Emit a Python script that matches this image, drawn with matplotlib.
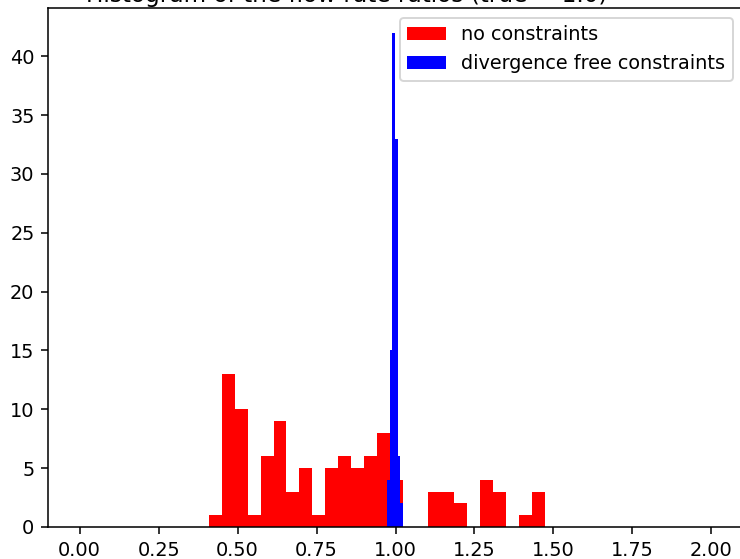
import numpy as np
import matplotlib
matplotlib.use('Agg')
import matplotlib.pyplot as plt

# counts
red_counts = [1, 13, 10, 1, 6, 9, 3, 5, 1, 5, 6, 5, 6, 8, 4, 0, 0, 3, 3, 2, 0, 4, 3, 0, 1, 3]
red_range = (0.4096, 1.4723)
blue_counts = [4, 15, 42, 33, 6, 2]
blue_range = (0.9734, 1.0240)

red_edges = np.linspace(red_range[0], red_range[1], len(red_counts) + 1)
blue_edges = np.linspace(blue_range[0], blue_range[1], len(blue_counts) + 1)

dpi = 139
fig = plt.figure(figsize=(740 / dpi, 559 / dpi), dpi=dpi)
ax = fig.add_axes([48 / 740, 32 / 559, 695 / 740, 519 / 559])

ax.hist(red_edges[:-1], bins=red_edges, weights=red_counts, color='red', label='no constraints')
ax.hist(blue_edges[:-1], bins=blue_edges, weights=blue_counts, color='blue',
        label='divergence free constraints')

ax.set_xlim(-0.1, 2.1)
ax.set_xticks(np.arange(0, 2.01, 0.25))
ax.set_title('Histogram of the flow rate ratios (true = 1.0)', x=0.43, pad=3)
ax.legend(loc='upper right')

fig.savefig('out.png', dpi=dpi)
